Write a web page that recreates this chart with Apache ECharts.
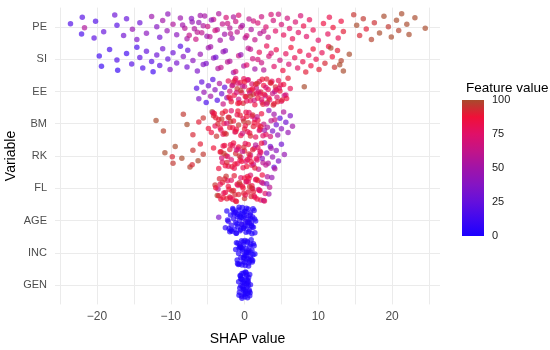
<!DOCTYPE html>
<html><head><meta charset="utf-8">
<script src="https://cdn.jsdelivr.net/npm/echarts@6/dist/echarts.min.js"></script>
<style>html,body{margin:0;padding:0;background:#fff}#c{width:550px;height:350px}</style>
</head><body><div id="c"></div><script>
const variables = ['PE','SI','EE','BM','RK','FL','AGE','INC','GEN'];
const xTickLabels = [-20,-10,0,10,20];
const xGridValues = [-25,-20,-15,-10,-5,0,5,10,15,20,25];
const legendTicks = [0,25,50,75,100];
// each point: [SHAP value, feature value]
const PE = [[-23.6,18],[-22.1,15],[-22,20],[-21.7,55],[-20.4,22],[-20.2,18],[-19.1,25],[-17.6,28],[-17.3,20],[-16.4,30],[-16,25],[-15.2,45],[-14.6,35],[-14.2,28],[-13.3,40],[-12.6,48],[-11.9,38],[-11.5,30],[-11.1,50],[-10.5,45],[-10.4,42],[-9.7,55],[-9.2,40],[-8.7,48],[-8.1,58],[-7.8,52],[-7.1,45],[-6.4,60],[-6,50],[-5.6,55],[-5.1,48],[-4.2,62],[-3.7,58],[-3.3,52],[-2.3,65],[-1.9,60],[-1.5,55],[-0.5,62],[0.1,58],[1.2,68],[2.6,60],[3.6,70],
[-8.4,50],[-7.5,62],[-7.2,40],[-6.8,55],[-6.6,65],[-6.2,45],[-5.8,60],[-5.4,52],[-5.0,65],[-4.7,58],[-4.5,45],[-4.0,68],[-3.5,55],[-3.0,62],[-2.7,50],[-2.5,70],[-2.0,58],[-1.7,48],[-1.2,66],[-1.0,60],[-0.8,72],[-0.3,52],[0.3,65],[0.6,60],[0.9,55],[1.4,62],[1.8,70],[2.1,58],[2.3,66],[2.9,72],[3.2,62],[3.9,68],[4.2,75],[4.6,65],[5.0,70],[5.3,78],[5.8,68],[6.1,74],[6.5,80],[6.9,72],[7.3,76],[7.6,70],[8.0,82],[8.4,75],[8.8,78],
[9.3,80],[10,75],[10.7,85],[11.3,78],[11.5,82],[12,88],[12.7,80],[13.1,85],[13.4,90],[14.8,95],[15.2,100],[15.6,92],[16.1,96],[16.5,90],[17.2,98],[17.6,94],[18.3,100],[18.9,100],[19.5,96],[19.9,100],[20.6,100],[20.9,98],[21.3,100],[22,100],[22.3,100],[23.1,100],[24.5,100]];
const SI = [[-19.7,12],[-19.4,10],[-18.3,15],[-17.3,18],[-17.2,8],[-16,12],[-15.3,20],[-14.6,15],[-14.2,22],[-13.8,18],[-13.3,25],[-12.6,20],[-12.4,12],[-11.9,28],[-11.5,22],[-11.1,30],[-10.4,25],[-10.1,35],[-9.7,28],[-9.2,32],[-8.7,20],[-8.3,38],[-7.8,30],[-7.7,25],[-7,40],[-6.4,35],[-6,45],[-5.6,38],[-4.9,48],[-4.2,42],[-3.6,55],[-2.9,45],[-2.3,60],[-1.5,50],[-0.8,65],[-0.1,55],[0.8,62],[1.8,70],[2.6,58],[3.6,72],
[-5.2,35],[-4.6,50],[-3.9,30],[-3.2,62],[-2.6,40],[-2.0,55],[-1.2,70],[-0.5,45],[0.3,75],[0.5,60],[1.1,68],[1.4,50],[2.0,78],[2.3,65],[3.0,80],[3.3,70],[4.0,75],[4.3,82],[4.8,68],[5.2,85],[5.6,78],[6.0,72],[6.3,88],[6.8,80],[7.2,76],[7.5,85],[7.9,82],[8.3,90],[8.7,78],[9.0,85],
[9.3,88],[9.7,82],[10.1,90],[10.5,80],[10.9,92],[11.4,85],[11.9,88],[12.2,95],[12.6,90],[13.1,98],[13.4,100],[14.2,100],[12.9,100],[11.7,100]];
const EE = [[-6.5,20],[-6.2,35],[-5.8,25],[-5.5,45],[-5.2,15],[-4.9,30],[-4.6,50],[-4.3,22],[-4.0,40],[-3.7,18],[-3.4,55],[-3.1,30],[-2.9,65],[-2.7,25],[-2.4,45],
[-2.2,80],[-2.0,70],[-1.8,90],[-1.6,60],[-1.4,85],[-1.2,75],[-1.0,95],[-0.8,65],[-0.6,88],[-0.4,78],[-0.2,92],[0,70],[0.2,85],[0.4,60],[0.6,90],[0.8,80],[1.0,72],[1.2,95],[1.4,85],[1.6,65],[1.8,88],[2.0,78],[2.2,92],[2.4,70],[2.6,85],[2.8,60],[3.0,90],[3.2,80],[3.4,75],[3.6,88],[3.8,65],[4.0,85],[4.2,92],[4.4,70],[4.6,80],[4.8,88],[5.0,75],[5.3,85],[5.6,70],[5.9,90],[6.2,80],
[-1.9,78],[-1.5,92],[-1.1,70],[-0.7,85],[-0.3,62],[0.1,90],[0.5,75],[0.9,88],[1.3,68],[1.7,95],[2.1,82],[2.5,90],[2.9,72],[3.3,85],[3.7,78],[4.1,60],[4.5,90],[4.9,82],[5.4,68],[-0.1,80],[1.1,85],[2.3,76],[3.5,92],[0.7,66],[-0.9,88],[8.1,100],
[-2.1,88],[-1.3,82],[-0.5,95],[0.3,78],[1.5,90],[2.7,85],[3.9,92],[4.7,75],[5.7,85],[0.0,88],[1.9,72],[3.1,95],[-1.7,68],[0.8,95],[2.4,88],[4.3,80],[5.1,90],[-0.9,72],[1.6,80],[3.0,70]];
const BM = [[-12.0,100],[-11.0,98],[-8.3,96],[-7.8,100],[-7.0,92],[-5.6,95],[-4.9,88],[-4.4,100],[-6.2,90],
[-4.5,85],[-4.2,92],[-4.0,80],[-3.8,95],[-3.5,88],[-3.2,78],[-3.0,90],[-2.8,85],[-2.5,95],[-2.2,82],[-2.0,90],[-1.8,75],[-1.5,88],[-1.2,92],[-1.0,80],[-0.8,95],[-0.5,85],[-0.2,78],[0,90],[0.2,82],[0.5,95],[0.7,85],[1.0,75],[1.2,90],[1.5,80],[1.8,88],[2.0,70],[2.3,85],[2.6,65],[2.9,78],[-3.9,90],[-3.3,85],[-2.6,88],[-1.9,95],[-1.3,78],[-0.6,90],[0.1,85],[0.8,92],[1.4,72],[2.1,80],[-4.3,75],[-2.4,70],[-0.3,68],[1.7,62],
[3.1,55],[3.3,40],[3.6,60],[3.8,35],[4.0,50],[4.3,30],[4.5,45],[4.8,25],[5.0,40],[5.3,55],[5.6,30],[5.9,45],[6.2,35],[6.5,50],[3.5,70],[4.1,65],[2.7,50],
[-4.1,88],[-3.6,92],[-2.9,80],[-2.1,95],[-1.6,85],[-0.9,88],[-0.1,95],[0.4,80],[1.1,92],[1.9,85],[2.5,75],[-3.1,95],[-1.1,85],[0.6,78],[1.3,88],[-2.7,92],[0.3,88],[2.2,90]];
const RK = [[-10.8,100],[-9.7,96],[-9.4,100],[-9.8,92],[-7.4,98],[-7.0,95],[-6.3,100],[-6.0,90],[-5.6,96],[-7.1,92],[-4.2,88],[-8.5,100],
[-3.5,85],[-3.2,92],[-3.0,78],[-2.7,88],[-2.5,95],[-2.2,80],[-2.0,90],[-1.8,72],[-1.5,85],[-1.2,92],[-1.0,78],[-0.8,88],[-0.5,70],[-0.2,82],[0,90],[0.2,75],[0.5,85],[0.8,68],[1.0,80],[1.3,72],[1.6,85],[1.9,65],[2.2,75],[2.5,60],[-2.9,82],[-2.3,75],[-1.7,90],[-1.1,68],[-0.6,85],[0.1,78],[0.6,92],[1.2,65],[1.8,80],[-3.1,70],[-1.4,82],[-0.3,62],[0.9,88],[1.5,58],[2.0,70],[-2.6,85],[-0.9,75],[0.4,80],
[2.7,45],[3.0,35],[3.2,55],[3.5,30],[3.8,45],[4.0,25],[4.3,40],[4.6,35],[5.0,30],[5.4,45],[2.9,60],[3.6,50],[2.4,40],[4.1,55],
[-3.3,88],[-2.4,92],[-1.6,80],[-0.7,95],[0.3,88],[1.1,90],[1.7,75],[2.3,85],[-2.8,95],[-1.3,88],[-0.1,92],[0.7,82],[1.4,90],[2.1,78],[-0.4,85],[-1.9,82]];
const FL = [[-4.0,95],[-3.7,100],[-3.4,92],[-3.6,60],[-3.2,85],[-3.0,90],[-2.8,80],[-2.5,95],[-2.2,85],[-2.0,92],[-1.8,78],[-1.5,88],[-1.2,95],[-1.0,82],[-0.8,90],[-0.5,75],[-0.2,88],[0,95],[0.2,80],[0.5,90],[0.8,72],[1.0,85],[1.3,78],[1.6,88],[1.9,70],[2.2,82],[2.5,65],[2.8,75],[3.1,55],[3.4,60],[-2.9,88],[-2.3,78],[-1.7,95],[-1.1,85],[-0.6,92],[0.1,80],[0.6,88],[1.1,70],[1.7,85],[2.3,62],[-2.6,82],[-1.4,90],[-0.3,85],[0.9,92],[1.5,75],[2.0,80],[2.6,50],[3.0,40],[3.3,48],[3.7,45],[-3.9,88],[-1.9,80],[0.3,70],[1.2,90],[2.4,85],[-0.9,78],
[-3.5,90],[-2.7,92],[-2.1,88],[-1.6,82],[-0.7,95],[-0.1,90],[0.4,85],[0.7,95],[1.4,82],[1.8,90],[2.1,75],[2.7,80],[-3.3,80],[-1.3,92],[0.0,85],[1.0,92],[-2.4,90],[0.5,80]];
const AGE = [[-3.5,35],[-2.6,5],[-2.4,2],[-2.2,8],[-2.0,3],[-1.9,0],[-1.8,6],[-1.6,2],[-1.5,4],[-1.4,0],[-1.3,7],[-1.2,3],[-1.1,1],[-1.0,5],[-0.9,2],[-0.8,0],[-0.7,4],[-0.6,3],[-0.5,1],[-0.4,6],[-0.3,2],[-0.2,0],[-0.1,4],[0,2],[0.1,5],[0.2,1],[0.3,3],[0.4,0],[0.5,6],[0.6,2],[0.7,4],[0.8,1],[0.9,3],[1.0,0],[1.1,5],[1.2,2],[1.3,4],[1.5,1],[-1.7,3],[-0.95,1],[-0.35,5],[0.25,2],[0.85,0],[-2.1,1],[-1.25,4],[0.45,3],[1.4,2],[-0.65,0],[0.05,3],[-1.55,1],
[-2.3,3],[-1.85,1],[-1.45,2],[-1.05,0],[-0.75,3],[-0.45,1],[-0.15,2],[0.15,0],[0.35,4],[0.55,1],[0.75,2],[0.95,0],[1.15,3],[1.35,1],[-0.55,2],[-0.25,0],[0.65,3],[-1.15,2],[0.0,1],[1.05,2]];
const INC = [[-1.2,2],[-1.0,0],[-0.9,4],[-0.8,1],[-0.7,3],[-0.6,0],[-0.5,5],[-0.4,2],[-0.3,1],[-0.2,3],[-0.1,0],[0,4],[0.1,2],[0.2,1],[0.3,3],[0.4,0],[0.5,2],[0.6,4],[0.7,1],[0.8,3],[0.9,0],[1.0,2],[1.1,1],[1.2,3],[1.4,0],[-0.85,2],[-0.45,1],[-0.05,3],[0.35,2],[0.75,0],[1.05,1],[-0.65,4],[0.15,0],[0.55,2],[-0.25,1],[0.95,3],[-1.1,0],[0.25,1],
[-0.95,1],[-0.55,2],[-0.15,0],[0.05,1],[0.45,3],[0.65,0],[0.85,2],[1.15,0],[-0.35,2],[-0.75,0],[0.5,1],[-0.2,2],[0.3,0],[0.0,1],[1.3,2]];
const GEN = [[-0.8,1],[-0.7,3],[-0.6,0],[-0.5,2],[-0.4,4],[-0.3,1],[-0.2,0],[-0.1,3],[0,2],[0.1,0],[0.2,1],[0.3,3],[0.4,0],[0.5,2],[0.6,1],[0.7,0],[0.8,2],[-0.75,0],[-0.45,1],[-0.15,2],[0.15,0],[0.45,3],[0.75,1],[-0.55,0],[-0.25,2],[0.05,1],[0.35,0],[0.65,2],[-0.35,0],[0.25,2],[-0.05,0],[0.55,1],
[-0.65,1],[-0.35,2],[-0.1,0],[0.1,1],[0.3,2],[0.5,0],[0.7,1],[-0.5,1],[0.0,0],[0.2,2],[-0.2,1],[0.4,1]];
const rows = [PE, SI, EE, BM, RK, FL, AGE, INC, GEN];

const palette = ['#1c00ff','#4008f0','#6410dc','#8414c4','#a014a8','#c21488','#e01068','#f01038','#a84a2c'];
const nRows = variables.length;
const pts = [];
rows.forEach((row, r) => {
  const yc = nRows - 1 - r;
  row.forEach((p, i) => {
    const off = ((((i + 1) * 0.6180339887) % 1) - 0.5) * 0.84; // jitter layout
    pts.push([p[0], yc + off, p[1]]);
  });
});
const yIdx = variables.map((v, i) => nRows - 1 - i);

const chart = echarts.init(document.getElementById('c'), null, {renderer: 'canvas'});
const font = 'Liberation Sans, Arial, sans-serif';
chart.setOption({
  animation: false,
  backgroundColor: '#fff',
  textStyle: {fontFamily: font},
  title: {text: 'Feature value', left: 461, top: 76, textStyle: {fontSize: 13.5, fontWeight: 'normal', color: '#000', fontFamily: font}},
  grid: [
    {left: 55, width: 385, top: 7.6, height: 296.8, containLabel: false, outerBoundsMode: 'none'},
    {left: 462, width: 22, top: 100, height: 136, containLabel: false, outerBoundsMode: 'none'}
  ],
  xAxis: [
    {gridIndex: 0, type: 'value', min: -25.7, max: 26.5,
     axisLine: {show: false},
     axisTick: {show: false, customValues: xGridValues},
     axisLabel: {customValues: xTickLabels, color: '#4d4d4d', fontSize: 12, margin: 6,
                 formatter: v => (v < 0 ? '\u2212' + Math.abs(v) : String(v))},
     splitLine: {show: true, lineStyle: {color: '#ebebeb', width: 1}},
     name: 'SHAP value', nameLocation: 'middle', nameGap: 28,
     nameTextStyle: {color: '#000', fontSize: 14, fontFamily: font}},
    {gridIndex: 1, type: 'category', data: [''], show: false}
  ],
  yAxis: [
    {gridIndex: 0, type: 'value', min: -0.6, max: 8.6,
     axisLine: {show: false},
     axisTick: {show: false, customValues: yIdx},
     axisLabel: {customValues: yIdx, color: '#4d4d4d', fontSize: 11, margin: 8,
                 formatter: v => variables[nRows - 1 - Math.round(v)]},
     splitLine: {show: true, lineStyle: {color: '#ebebeb', width: 1}},
     name: 'Variable', nameLocation: 'middle', nameGap: 37, nameRotate: 90, nameMoveOverlap: false,
     nameTextStyle: {color: '#000', fontSize: 14, fontFamily: font}},
    {gridIndex: 1, type: 'value', min: 0, max: 100, interval: 25, position: 'right',
     axisLine: {show: false},
     axisTick: {show: true, inside: true, length: 4, lineStyle: {color: '#fff', width: 1}},
     splitLine: {show: false},
     axisLabel: {color: '#1a1a1a', fontSize: 11, margin: 8}}
  ],
  visualMap: {show: false, type: 'continuous', min: 0, max: 100, dimension: 2, seriesIndex: 0,
              inRange: {color: palette}},
  series: [
    {type: 'scatter', xAxisIndex: 0, yAxisIndex: 0, data: pts, symbolSize: 5.5,
     itemStyle: {opacity: 0.68}, silent: true},
    {type: 'bar', xAxisIndex: 1, yAxisIndex: 1, data: [legendTicks[legendTicks.length - 1]], barWidth: '100%', silent: true,
     itemStyle: {color: {type: 'linear', x: 0, y: 1, x2: 0, y2: 0,
       colorStops: palette.map((c, i) => ({offset: i / (palette.length - 1), color: c}))}}}
  ]
});
</script></body></html>
